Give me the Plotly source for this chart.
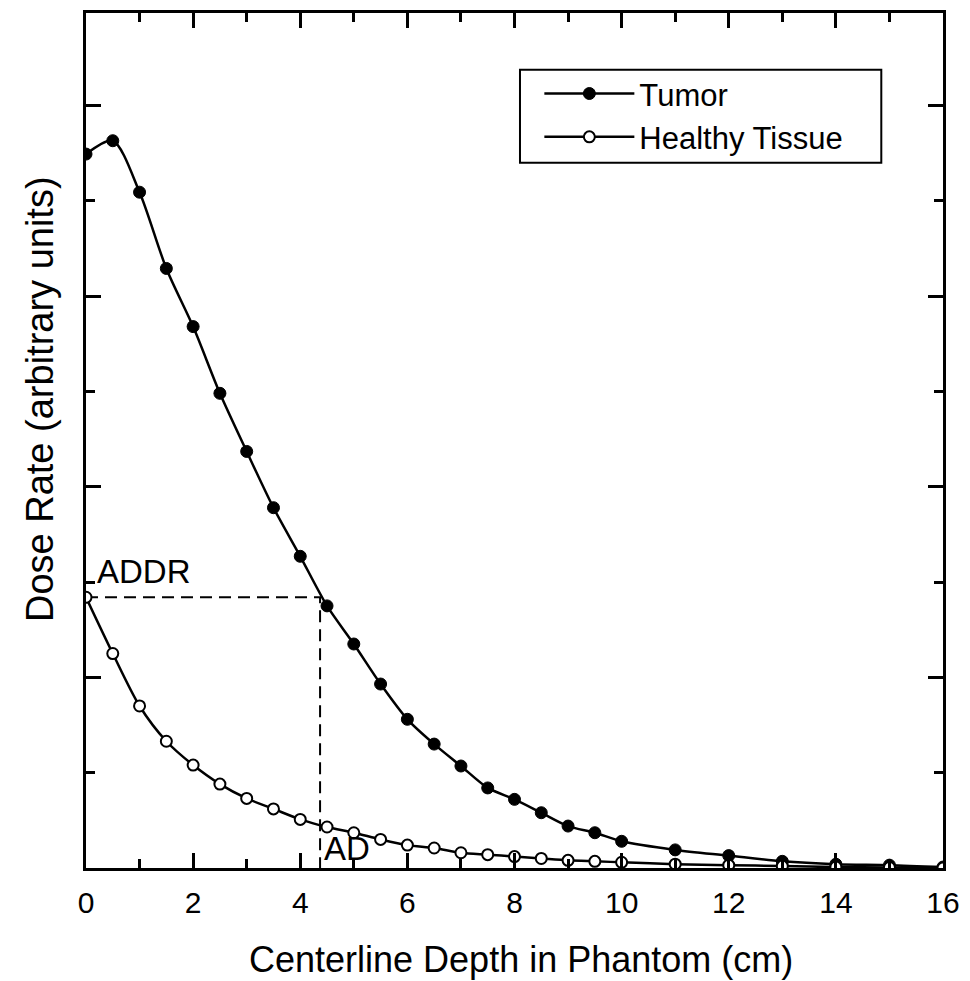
import plotly.graph_objects as go

depth_tumor = [0, 0.5, 1, 1.5, 2, 2.5, 3, 3.5, 4, 4.5, 5, 5.5, 6, 6.5, 7, 7.5, 8, 8.5, 9, 9.5, 10, 11, 12, 13, 14, 15, 16]
dose_tumor = [7.49, 7.63, 7.09, 6.29, 5.68, 4.98, 4.37, 3.78, 3.27, 2.75, 2.35, 1.93, 1.56, 1.30, 1.07, 0.84, 0.72, 0.58, 0.44, 0.37, 0.28, 0.19, 0.13, 0.07, 0.04, 0.03, 0.01]

depth_healthy = [0, 0.5, 1, 1.5, 2, 2.5, 3, 3.5, 4, 4.5, 5, 5.5, 6, 6.5, 7, 7.5, 8, 8.5, 9, 9.5, 10, 11, 12, 13, 14, 15, 16]
dose_healthy = [2.84, 2.25, 1.70, 1.33, 1.08, 0.88, 0.73, 0.62, 0.51, 0.43, 0.37, 0.30, 0.24, 0.21, 0.16, 0.14, 0.12, 0.10, 0.08, 0.07, 0.06, 0.04, 0.03, 0.02, 0.01, 0.005, 0.0]

addr_value = 2.84
ad_depth = 4.37

FONT = "Liberation Sans, Arial, Helvetica, sans-serif"

fig = go.Figure()

# dashed guide lines
fig.add_trace(go.Scatter(x=[0, ad_depth, ad_depth], y=[addr_value, addr_value, 0],
                         mode="lines", line=dict(color="black", width=2, dash="12px,7px"),
                         showlegend=False, hoverinfo="skip"))

fig.add_trace(go.Scatter(x=depth_tumor, y=dose_tumor, mode="lines+markers", name="Tumor",
                         line=dict(color="black", width=2.5, shape="spline", smoothing=0.8),
                         marker=dict(symbol="circle", size=12, color="black",
                                     line=dict(color="black", width=1))))
fig.add_trace(go.Scatter(x=depth_healthy, y=dose_healthy, mode="lines+markers", name="Healthy Tissue",
                         line=dict(color="black", width=2.5, shape="spline", smoothing=0.8),
                         marker=dict(symbol="circle", size=11, color="white",
                                     line=dict(color="black", width=2))))

fig.add_annotation(x=0.17, y=3.11, text="ADDR", showarrow=False, xanchor="left", yanchor="middle",
                   font=dict(family=FONT, size=33, color="black"))
fig.add_annotation(x=ad_depth + 0.03, y=0.2, text="AD", showarrow=False, xanchor="left", yanchor="middle",
                   font=dict(family=FONT, size=33, color="black"))

# axis titles as annotations
fig.add_annotation(x=0.508, y=-0.107, xref="paper", yref="paper", text="Centerline Depth in Phantom (cm)",
                   showarrow=False, xanchor="center", yanchor="middle",
                   font=dict(family=FONT, size=36, color="black"))
fig.add_annotation(x=-0.053, y=0.548, xref="paper", yref="paper", text="Dose Rate (arbitrary units)",
                   showarrow=False, xanchor="center", yanchor="middle", textangle=-90,
                   font=dict(family=FONT, size=38, color="black"))

# legend frame
fig.add_shape(type="rect", xref="paper", yref="paper", x0=0.5064, x1=0.928, y0=0.825, y1=0.9336,
              line=dict(color="black", width=2), fillcolor="rgba(0,0,0,0)", layer="above")

fig.update_layout(
    width=970, height=981,
    margin=dict(l=86, r=23, t=10, b=113),
    paper_bgcolor="white", plot_bgcolor="white",
    font=dict(family=FONT, color="black"),
    legend=dict(x=0.529, y=0.937, xanchor="left", yanchor="top",
                bgcolor="rgba(0,0,0,0)", borderwidth=0,
                font=dict(family=FONT, size=31, color="black"),
                itemwidth=90, tracegroupgap=0),
)

fig.update_xaxes(range=[0, 16], dtick=2, tick0=0, showgrid=False, zeroline=False,
                 showline=True, linecolor="black", linewidth=3, mirror="ticks",
                 ticks="inside", ticklen=15, tickwidth=3, tickcolor="black",
                 minor=dict(ticks="inside", ticklen=9, tickwidth=3, dtick=1, tickcolor="black", showgrid=False),
                 ticklabelstandoff=6,
                 tickfont=dict(family=FONT, size=30, color="black"))
fig.update_yaxes(range=[0, 8.97], dtick=2, tick0=0, showgrid=False, zeroline=False,
                 showline=True, linecolor="black", linewidth=3, mirror="ticks",
                 ticks="inside", ticklen=15, tickwidth=3, tickcolor="black",
                 minor=dict(ticks="inside", ticklen=9, tickwidth=3, dtick=1, tickcolor="black", showgrid=False),
                 showticklabels=False)

fig.write_html("out.html")
